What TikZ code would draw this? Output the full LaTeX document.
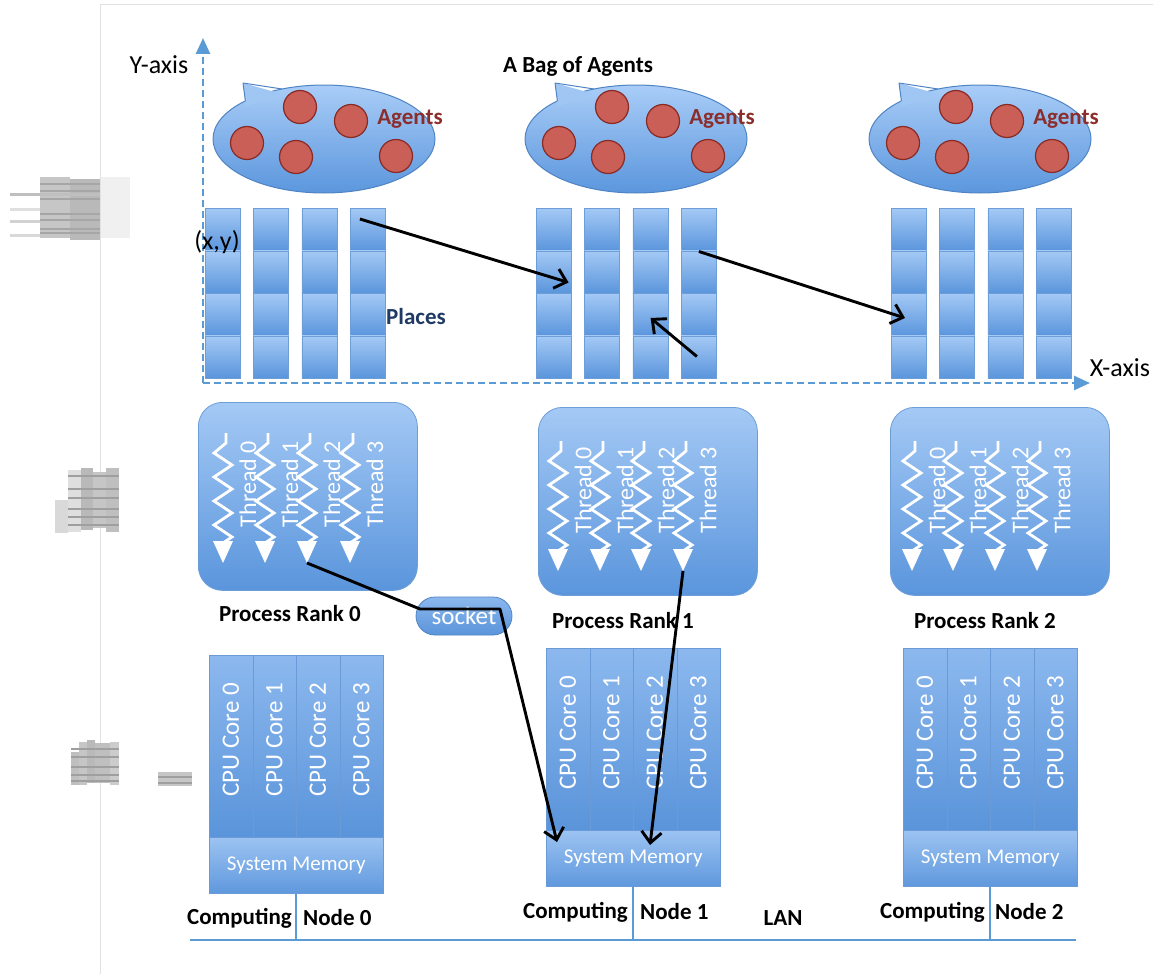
\documentclass[tikz,border=0pt]{standalone}
\usepackage{fontspec}
\setmainfont{Carlito}
\usetikzlibrary{arrows.meta,calc,shapes.geometric}

\definecolor{axisblue}{HTML}{5B9BD5}
\definecolor{lightfill}{HTML}{A4C9F5}
\definecolor{darkfill}{HTML}{5A95DC}
\definecolor{edgeblue}{HTML}{6E9ED8}
\definecolor{bagTop}{HTML}{A9CDF7}
\definecolor{bagBottom}{HTML}{5B96DD}
\definecolor{bagEdge}{HTML}{4F84C4}
\definecolor{coreTop}{HTML}{8CB8EE}
\definecolor{coreBottom}{HTML}{5A94DA}
\definecolor{coreEdge}{HTML}{6A9BD6}
\definecolor{memTop}{HTML}{9CC3F2}
\definecolor{memBottom}{HTML}{5F98DD}
\definecolor{agentfill}{HTML}{C95F57}
\definecolor{agentedge}{HTML}{8A2A24}
\definecolor{agenttext}{HTML}{8B2E2B}
\definecolor{navytext}{HTML}{1F3A64}
\definecolor{framegray}{HTML}{E2E2E2}

\tikzset{
  cellbox/.style={draw=edgeblue, line width=0.6pt, top color=lightfill, bottom color=darkfill,
    minimum width=35pt, minimum height=42.5pt, anchor=north west},
  procbox/.style={draw=edgeblue, line width=0.8pt, top color=lightfill, bottom color=darkfill,
    rounded corners=24pt, minimum width=219pt, minimum height=188pt, anchor=north west},
  corebox/.style={draw=coreEdge, line width=0.6pt, top color=coreTop, bottom color=coreBottom,
    minimum width=43.5pt, minimum height=182pt, anchor=north west},
  membox/.style={draw=coreEdge, line width=0.6pt, top color=memTop, bottom color=memBottom,
    minimum width=174pt, minimum height=56pt, anchor=north west, text=white,
    font=\fontsize{21}{25}\selectfont},
  socketbox/.style={draw=bagEdge, line width=0.8pt, top color=coreTop, bottom color=coreBottom,
    rounded corners=19pt, minimum width=96pt, minimum height=38pt, text=white,
    font=\fontsize{25}{29}\selectfont},
  agentdot/.style={circle, draw=agentedge, line width=1.2pt, fill=agentfill, minimum size=33pt},
  bagshape/.style={ellipse, draw=bagEdge, line width=1pt, top color=bagTop, bottom color=bagBottom,
    minimum width=222pt, minimum height=108pt},
  boldlabel/.style={font=\bfseries\fontsize{23}{27}\selectfont},
  plainlabel/.style={font=\fontsize{26}{30}\selectfont},
  threadline/.style={white, line width=2.8pt, line join=miter},
  threadlabel/.style={text=white, rotate=90, font=\fontsize{24}{28}\selectfont},
  corelabel/.style={text=white, rotate=90, font=\fontsize{25}{29}\selectfont},
  flowarrow/.style={black, line width=2.9pt, line join=round, -{Straight Barb[length=11pt,width=20pt]}},
  axisline/.style={axisblue, line width=2.6pt, dash pattern=on 7pt off 4pt,
    -{Triangle[length=16pt,width=14pt]}},
  lanline/.style={axisblue, line width=2.5pt},
  smudge/.style={fill=#1, draw=none},
}

% one thread: zig-zag with a downward arrowhead; #1 names the tip
\newcommand\drawthread[3]{%
  \draw[threadline] (#2+3,#3) -- (#2+3,#3+10) -- (#2-9,#3+20) -- (#2+9,#3+32)
    -- (#2-9,#3+44) -- (#2+9,#3+56) -- (#2-9,#3+68) -- (#2+9,#3+80)
    -- (#2-9,#3+92) -- (#2+9,#3+104) -- (#2,#3+110);
  \fill[white] (#2-10,#3+108) -- (#2+10,#3+108) -- (#2,#3+130) -- cycle;
  \coordinate (#1) at (#2,#3+130);
}

% one bag of agents: callout ellipse with five agents
\newcommand\drawbag[3]{% name, centre x, centre y
  \node[bagshape] (#1) at (#2,#3) {};
  \fill[bagTop!88!bagBottom] (#2-81,#3-56) -- (#2-78,#3-33) -- (#2-42,#3-45) -- cycle;
  \draw[bagEdge, line width=1pt, line join=round] (#2-78.6,#3-38) -- (#2-81,#3-56) -- (#2-42,#3-50);
  \node[agentdot] (#1a) at (#2-24,#3-32) {};
  \node[agentdot] (#1b) at (#2+27,#3-18) {};
  \node[agentdot] (#1c) at (#2-77,#3+4) {};
  \node[agentdot] (#1d) at (#2-28,#3+18) {};
  \node[agentdot] (#1e) at (#2+72,#3+17) {};
  \node[boldlabel, text=agenttext] (#1t) at (#2+86,#3-20) {Agents};
}

\begin{document}
\begin{tikzpicture}[x=1pt, y=-1pt, every node/.style={inner sep=0pt}]
\useasboundingbox (0,0) rectangle (1153,974);

% page frame
\draw[framegray, line width=1pt] (100,974) -- (100,5) -- (1153,5);

% scanned margin marks
\fill[smudge=gray!45] (40,177) rectangle (70,238);
\fill[smudge=gray!55] (70,179) rectangle (100,240);
\fill[smudge=gray!12] (101,177) rectangle (130,238);
\fill[smudge=gray!50] (10,193) rectangle (100,196);
\fill[smudge=gray!25] (10,208) rectangle (40,211);
\fill[smudge=gray!35] (10,220) rectangle (40,223);
\fill[smudge=gray!30] (10,234) rectangle (40,237);
\foreach \yy in {183,190,198,213,219,228,232} {
  \fill[smudge=gray!70] (40,\yy) rectangle (100,\yy+2);
}
\fill[smudge=gray!30] (55,500) rectangle (68,533);
\fill[smudge=gray!25] (68,470) rectangle (81,532);
\fill[smudge=gray!55] (81,468) rectangle (93,530);
\fill[smudge=gray!45] (93,472) rectangle (106,528);
\fill[smudge=gray!50] (106,468) rectangle (119,532);
\foreach \yy in {475,488,497,508,516,524} {
  \fill[smudge=gray!75] (68,\yy) rectangle (119,\yy+2);
}
\fill[smudge=gray!50] (71,752) rectangle (79,785);
\fill[smudge=gray!45] (79,742) rectangle (87,785);
\fill[smudge=gray!55] (87,740) rectangle (95,783);
\fill[smudge=gray!50] (95,743) rectangle (110,783);
\fill[smudge=gray!40] (110,742) rectangle (119,785);
\foreach \yy in {748,756,766,774,780} {
  \fill[smudge=gray!75] (71,\yy) rectangle (119,\yy+2);
}
\fill[smudge=gray!45] (158,772) rectangle (192,786);
\fill[smudge=gray!75] (158,776) rectangle (192,778);
\fill[smudge=gray!75] (158,782) rectangle (192,784);

% axes
\coordinate (origin) at (203,383);
\coordinate (ytip) at (203,38);
\coordinate (xtip) at (1090,383);
\draw[axisline] (origin) -- (ytip);
\draw[axisline] (origin) -- (xtip);
\node[plainlabel] (ylab) at (159,65) {Y-axis};
\node[plainlabel] (xlab) at (1120,368) {X-axis};
\node[boldlabel] (title) at (578,66) {A Bag of Agents};

% bags of agents
\drawbag{bagA}{324}{139}
\drawbag{bagB}{636}{139}
\drawbag{bagC}{980}{139}

% places: three groups of 4 x 4 cells
\foreach \gx [count=\g] in {205,536,891} {
  \foreach \c in {0,...,3} {
    \foreach \r in {0,...,3} {
      \node[cellbox] (c\g\c\r) at ({\gx+48.3*\c},{208+42.5*\r}) {};
    }
  }
}
\node[plainlabel] (xy) at (217,242) {(x,y)};
\node[boldlabel, text=navytext] (places) at (416,317) {Places};

% agent migration between places
\draw[flowarrow] ($(c130.north west)+(10,11)$) -- ($(c201.north east)+(-3,32)$);
\draw[flowarrow] ($(c231.north west)+(18,1)$) -- ($(c302.north west)+(14,25)$);
\draw[flowarrow] ($(c233.north west)+(16,21)$) -- ($(c222.north west)+(18,25)$);

% processes and their threads
\node[procbox] (proc0) at (198,402) {};
\node[procbox] (proc1) at (538,407) {};
\node[procbox] (proc2) at (890,407) {};

\foreach \x [count=\i from 0] in {223,265,307,350} {
  \drawthread{t0\i}{\x}{433}
  \node[threadlabel] (tl0\i) at (\x+25,484) {Thread \i};
}
\foreach \x [count=\i from 0] in {558,600,641,683} {
  \drawthread{t1\i}{\x}{441}
  \node[threadlabel] (tl1\i) at (\x+25,490) {Thread \i};
}
\foreach \x [count=\i from 0] in {912,953,995,1037} {
  \drawthread{t2\i}{\x}{441}
  \node[threadlabel] (tl2\i) at (\x+25,490) {Thread \i};
}

\node[boldlabel] (rank0) at (290,614) {Process Rank 0};
\node[boldlabel] (rank1) at (623,621) {Process Rank 1};
\node[boldlabel] (rank2) at (985,621) {Process Rank 2};

\node[socketbox] (sock) at (464,616) {socket};

% computing nodes: four cores over a shared memory
\foreach \nx/\ny [count=\n from 0] in {209/655, 546/648, 903/648} {
  \foreach \k in {0,...,3} {
    \node[corebox] (core\n\k) at ({\nx+43.5*\k},\ny) {};
    \node[corelabel] (cl\n\k) at ({\nx+43.5*\k+21.75},{\ny+85}) {CPU Core \k};
  }
  \node[membox] (mem\n) at (\nx,{\ny+182}) {System Memory};
}

% remote accesses through the socket
\draw[flowarrow] (t02) -- ($(sock.center)+(-44,-7)$) -- ($(sock.center)+(36,-7)$)
  -- ($(mem1.north west)+(11,12)$);
\draw[flowarrow] (t13) -- ($(mem1.north west)+(104,15)$);

% LAN
\coordinate (lanL) at (190,940);
\coordinate (lanR) at (1076,940);
\draw[lanline] (lanL) -- (lanR);
\foreach \n in {0,1,2} {
  \draw[lanline, line width=2pt] (mem\n.south) -- (mem\n.south |- lanL);
}
\node[boldlabel, anchor=east] (comp0) at (292,918) {Computing};
\node[boldlabel, anchor=west] (node0) at (303,918) {Node 0};
\node[boldlabel, anchor=east] (comp1) at (628,912) {Computing};
\node[boldlabel, anchor=west] (node1) at (640,912) {Node 1};
\node[boldlabel, anchor=east] (comp2) at (985,912) {Computing};
\node[boldlabel, anchor=west] (node2) at (995,912) {Node 2};
\node[boldlabel] (lan) at (783,918) {LAN};
\end{tikzpicture}
\end{document}
